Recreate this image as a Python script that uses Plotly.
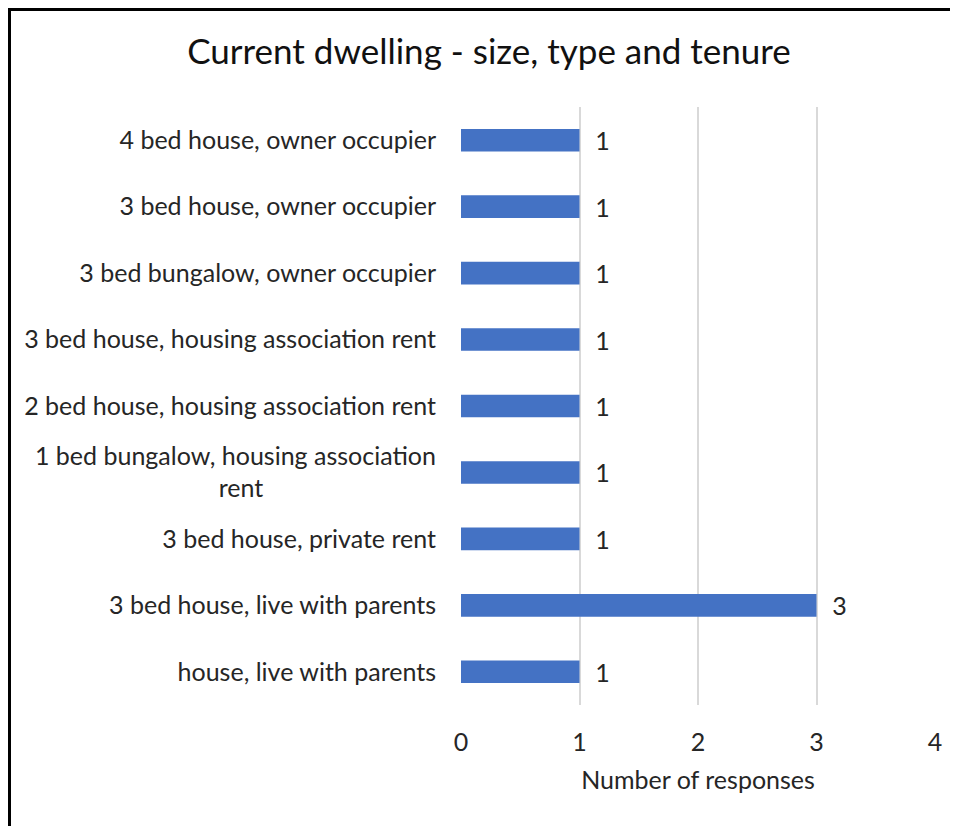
import plotly.graph_objects as go

NB = "\u00a0"
categories = [
    "house, live with parents",
    "3 bed house, live with parents",
    "3 bed house, private rent",
    "1 bed bungalow, housing association<br>rent" + NB * 27,
    "2 bed house, housing association rent",
    "3 bed house, housing association rent",
    "3 bed bungalow, owner occupier",
    "3 bed house, owner occupier",
    "4 bed house, owner occupier",
]
values = [1, 3, 1, 1, 1, 1, 1, 1, 1]
x_ticks = [0, 1, 2, 3, 4]

FONT = "Lato, 'Open Sans', sans-serif"
TXT = "#262626"

# page has an 8px body margin; figure is drawn from (8, 8)
W, H = 958, 818
L, R, T, B = 453, 31, 99, 121
PW, PH = W - L - R, H - T - B

fig = go.Figure(
    go.Bar(
        y=categories,
        x=values,
        orientation="h",
        marker=dict(color="#4472C4", line=dict(width=0)),
        width=0.34,
        texttemplate=NB * 2 + "%{x}",
        textposition="outside",
        constraintext="none",
        textfont=dict(family=FONT, size=25, color=TXT),
        cliponaxis=False,
    )
)

fig.update_layout(
    width=W,
    height=H,
    paper_bgcolor="white",
    plot_bgcolor="white",
    margin=dict(l=L, r=R, t=T, b=B),
    title=dict(
        text="Current dwelling - size, type and tenure",
        x=481 / W,
        xref="container",
        xanchor="center",
        y=1 - 44 / H,
        yref="container",
        yanchor="middle",
        font=dict(family=FONT, size=35, color="#111111"),
    ),
    showlegend=False,
    xaxis=dict(
        range=[0, 4],
        tickvals=x_ticks,
        showgrid=True,
        gridcolor="#d9d9d9",
        gridwidth=1.5,
        zeroline=False,
        showline=False,
        ticks="",
        ticklabelstandoff=20,
        tickfont=dict(family=FONT, size=25, color=TXT),
        title=dict(text="Number of responses", font=dict(family=FONT, size=25, color=TXT), standoff=16),
    ),
    yaxis=dict(
        showgrid=False,
        zeroline=False,
        showline=False,
        ticks="",
        ticklabelstandoff=24,
        tickfont=dict(family=FONT, size=25, color=TXT),
    ),
    shapes=[
        dict(type="line", xref="paper", yref="paper",
             x0=-L / PW, x1=(W - L) / PW,
             y0=1 + (T - 1.5) / PH, y1=1 + (T - 1.5) / PH,
             line=dict(color="black", width=3)),
        dict(type="line", xref="paper", yref="paper",
             x0=(1.5 - L) / PW, x1=(1.5 - L) / PW,
             y0=1 + T / PH, y1=-B / PH,
             line=dict(color="black", width=3)),
    ],
)

fig.write_html("out.html")
